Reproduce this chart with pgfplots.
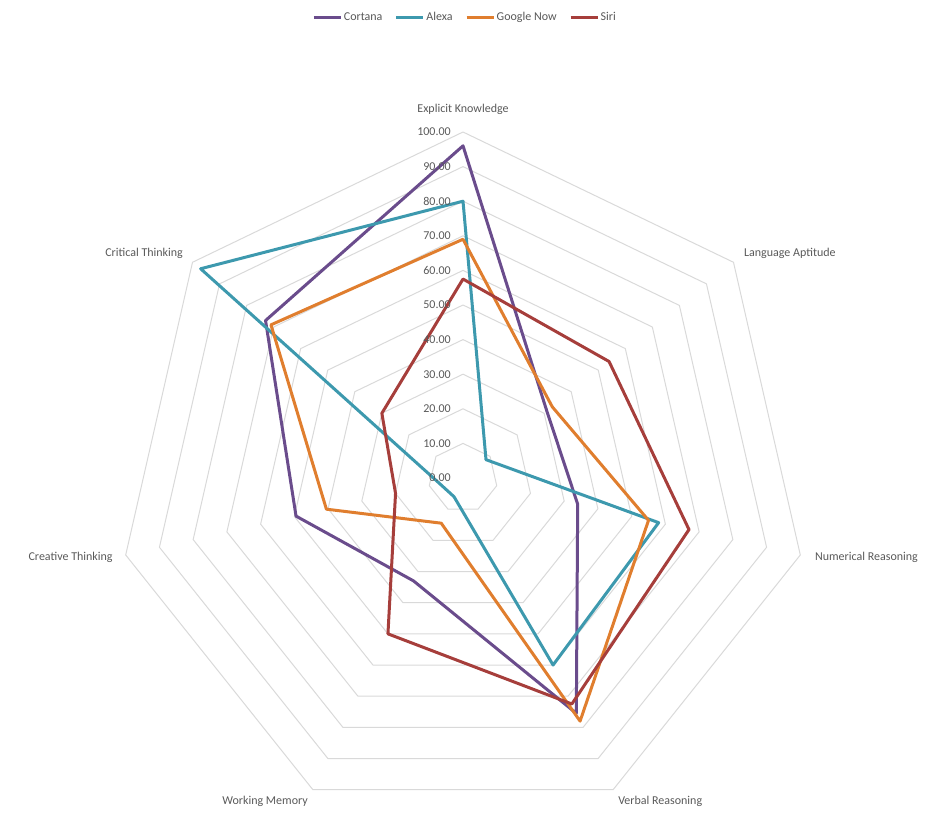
\documentclass[border=0pt]{standalone}
\usepackage{pgfplots}
\usepackage{pgfplotstable}
\pgfplotsset{compat=1.18}
\usepackage{fontspec}
\setmainfont{Carlito}

\definecolor{cortana}{HTML}{6A4C8C}
\definecolor{alexa}{HTML}{3D99AE}
\definecolor{googlenow}{HTML}{E07E2E}
\definecolor{siri}{HTML}{A63E3B}
\definecolor{txt}{HTML}{595959}
\definecolor{gridc}{HTML}{D9D9D9}

% angle (deg, clockwise from top) and score per assistant
\pgfplotstableread{
angle     cortana alexa google siri
90        96      80    69     57.5
38.571    31      8.5   33     54
-12.857   34      58    55     67
-64.286   75.5    60    78     72.5
-115.714  33      6     14.5   50
-167.143  49.5    7     40.5   20
-218.571  73      97    71     30
}\radardata

\begin{document}
\begin{tikzpicture}
\begin{axis}[
  scale only axis,
  width=926pt, height=835pt,
  xmin=-133.82, xmax=133.82,
  ymin=-103.18, ymax=138.15,
  hide axis, clip=false,
  legend columns=4,
  legend style={at={(rel axis cs:0.502,0.9796)}, anchor=center, draw=none,
    font=\fontsize{12}{14}\selectfont, text=txt,
    nodes={inner sep=1.5pt},
    /tikz/every even column/.append style={column sep=11pt}},
  legend image code/.code={\draw[#1, line width=3pt] (0pt,0pt) -- (27pt,0pt);},
  every axis plot/.append style={line join=round},
]
\path (rel axis cs:0,0) rectangle (rel axis cs:1,1);

% heptagon grid rings
\pgfplotsinvokeforeach{10,20,...,100}{
  \addplot[gridc, line width=1pt, forget plot, data cs=polar]
    coordinates {(90,#1) (38.571,#1) (-12.857,#1) (-64.286,#1) (-115.714,#1) (-167.143,#1) (-218.571,#1)} -- cycle;
}

\addplot[cortana, line width=3pt, data cs=polar] table[x=angle, y=cortana] {\radardata} -- cycle;
\addlegendentry{Cortana}
\addplot[alexa, line width=3pt, data cs=polar] table[x=angle, y=alexa] {\radardata} -- cycle;
\addlegendentry{Alexa}
\addplot[googlenow, line width=3pt, data cs=polar] table[x=angle, y=google] {\radardata} -- cycle;
\addlegendentry{Google Now}
\addplot[siri, line width=3pt, data cs=polar] table[x=angle, y=siri] {\radardata} -- cycle;
\addlegendentry{Siri}

% radial tick labels
\pgfplotsinvokeforeach{0,10,...,100}{
  \node[anchor=east, inner sep=0pt, text=txt, font=\fontsize{12}{14}\selectfont]
    at (axis cs:-3.5,#1) {\pgfmathprintnumber[fixed, fixed zerofill, precision=2, assume math mode=true]{#1}};
}

% category labels
\begin{scope}[every node/.style={inner sep=0pt, text=txt, font=\fontsize{12}{14}\selectfont}]
\node[anchor=center] at (axis cs:0,106.4) {Explicit Knowledge};
\node[anchor=west] at (axis cs:81.2,65.0) {Language Aptitude};
\node[anchor=west] at (axis cs:101.7,-22.8) {Numerical Reasoning};
\node[anchor=center] at (axis cs:57.0,-93.4) {Verbal Reasoning};
\node[anchor=center] at (axis cs:-57.2,-93.4) {Working Memory};
\node[anchor=east] at (axis cs:-101.2,-22.8) {Creative Thinking};
\node[anchor=east] at (axis cs:-80.9,65.0) {Critical Thinking};
\end{scope}
\end{axis}
\end{tikzpicture}
\end{document}
